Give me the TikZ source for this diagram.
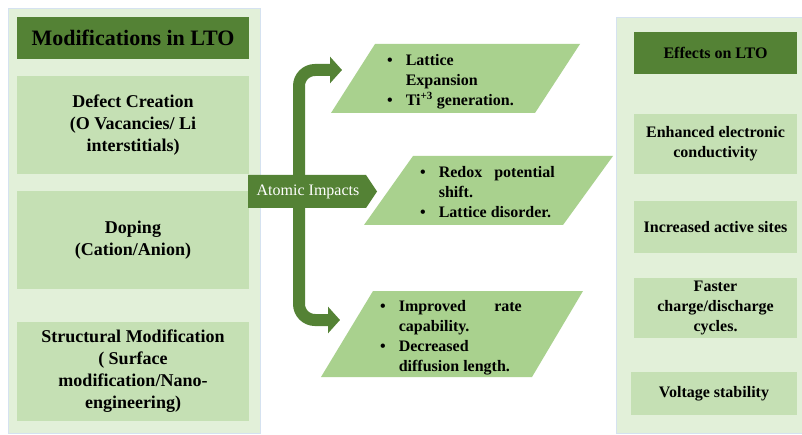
\documentclass[tikz,border=0pt]{standalone}
\usepackage{fontspec}
\setmainfont{Liberation Serif}
\usepackage{tikz}
\usetikzlibrary{arrows.meta,positioning}
\definecolor{dkgreen}{HTML}{548235}
\definecolor{panelgreen}{HTML}{E2F0D9}
\definecolor{boxgreen}{HTML}{C5E0B4}
\definecolor{paragreen}{HTML}{A9D18E}
\definecolor{panelline}{HTML}{D5E2F0}
\newcommand{\bfs}{\bfseries\fontsize{16}{20}\selectfont}
\newcommand{\bfl}{\bfseries\fontsize{18}{22}\selectfont}

\begin{document}
\begin{tikzpicture}[x=1pt,y=-1pt,
    panel/.style={fill=panelgreen, draw=panelline, line width=0.8pt},
    head/.style={fill=dkgreen, draw=none, inner sep=0pt, align=center},
    item/.style={fill=boxgreen, draw=none, inner sep=0pt, align=center, font=\bfs},
    para/.style={fill=paragreen, draw=none},
    ptext/.style={anchor=base west, inner sep=0pt, font=\bfs},
    bar/.style={dkgreen, line width=12pt, rounded corners=16pt,
      {Triangle[length=12pt,width=26pt]}-{Triangle[length=12pt,width=26pt]}}]
    \useasboundingbox (0,0) rectangle (802,435);
    % side panels
    \fill[white] (0,0) rectangle (802,435);
    \draw[panel] (8,8) rectangle (260,433);
    \draw[panel] (616,17) rectangle (806,433);
    % modifications
    \node[head, minimum width=232pt, minimum height=42pt, font=\bfseries\fontsize{22}{24}\selectfont] (mod) at (133,38) {Modifications in LTO};
    \node[item, minimum width=232pt, minimum height=98pt, font=\bfl] (defect) at (133,125) {Defect Creation\\(O Vacancies/ Li\\interstitials)};
    \node[item, minimum width=232pt, minimum height=98pt, font=\bfl] (doping) at (133,240) {Doping\\(Cation/Anion)};
    \node[item, minimum width=232pt, minimum height=99pt, font=\bfl] (struct) at (133,371.5) {Structural Modification\\( Surface\\modification/Nano-\\engineering)};
    % atomic impacts
    \coordinate (t1) at (342,70);
    \coordinate (t3) at (340,320);
    \draw[bar] (t1) -- (299,70) -- (299,320) -- (t3);
    \fill[dkgreen] (248,175) -- (366,175) -- (377,191.5) -- (366,208) -- (248,208) -- cycle;
    \node[inner sep=0pt, text=white, font=\fontsize{16}{20}\selectfont] (atomic) at (308,192) {Atomic Impacts};
    % parallelograms
    \fill[para] (375,44) -- (580,44) -- (535,113) -- (331,113) -- cycle;
    \fill[para] (413,156) -- (613,156) -- (563,225) -- (364,225) -- cycle;
    \fill[para] (373,291) -- (583,291) -- (532,377) -- (321,377) -- cycle;
    \node[ptext] (p1) at (387,66) {\begin{tabular}[t]{@{}c@{\hspace{13pt}}l@{}}
      \textbullet & Lattice\\ & Expansion\\ \textbullet & Ti\textsuperscript{\fontsize{11}{11}\selectfont +3} generation.\end{tabular}};
    \node[ptext] (p2) at (420,178) {\begin{tabular}[t]{@{}c@{\hspace{13pt}}l@{}}
      \textbullet & \makebox[116pt][s]{Redox potential}\\ & shift.\\ \textbullet & Lattice disorder.\end{tabular}};
    \node[ptext] (p3) at (380,311) {\begin{tabular}[t]{@{}c@{\hspace{13pt}}l@{}}
      \textbullet & \makebox[123pt][s]{Improved rate}\\ & capability.\\ \textbullet & Decreased\\ & diffusion length.\end{tabular}};
    % effects
    \node[head, minimum width=163pt, minimum height=42pt, font=\bfs] (eff) at (715.5,53) {Effects on LTO};
    \node[item, minimum width=163pt, minimum height=60pt] (enh) at (715.5,144) {Enhanced electronic\\conductivity};
    \node[item, minimum width=163pt, minimum height=52pt] (inc) at (715.5,227) {Increased active sites};
    \node[item, minimum width=163pt, minimum height=60pt] (fast) at (715.5,308) {Faster\\charge/discharge\\cycles.};
    \node[item, minimum width=166pt, minimum height=43pt] (volt) at (714,393.5) {Voltage stability};
\end{tikzpicture}
\end{document}
